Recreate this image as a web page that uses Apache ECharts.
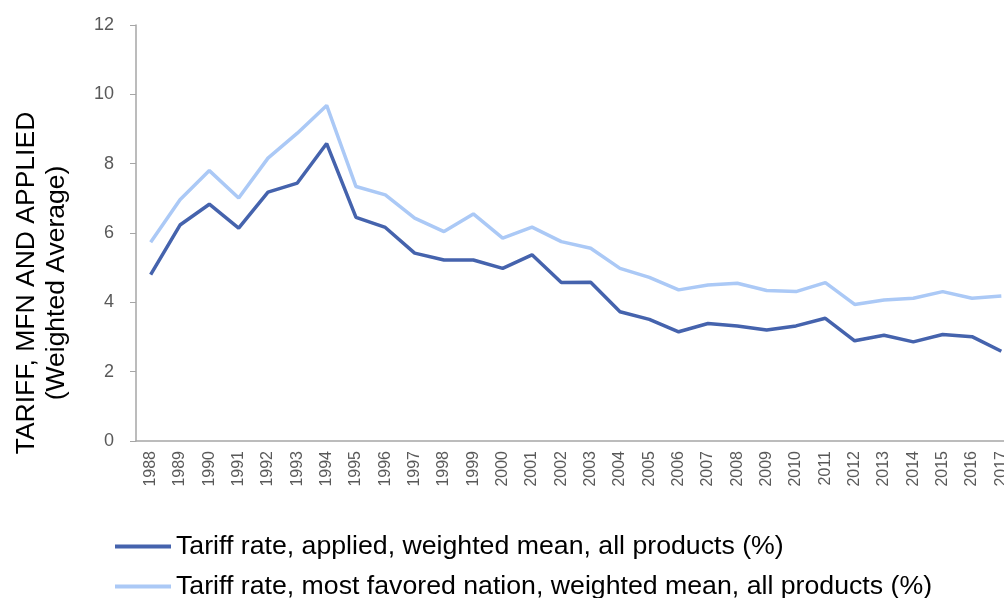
<!DOCTYPE html>
<html>
<head>
<meta charset="utf-8">
<script src="https://cdn.jsdelivr.net/npm/echarts@6/dist/echarts.min.js"></script>
<style>
  html, body { margin: 0; padding: 0; background: #fff; }
  #chart { width: 1004px; height: 598px; }
</style>
</head>
<body>
<div id="chart"></div>
<script>
// years on the x axis
const years = ["1988", "1989", "1990", "1991", "1992", "1993", "1994", "1995", "1996", "1997",
  "1998", "1999", "2000", "2001", "2002", "2003", "2004", "2005", "2006", "2007",
  "2008", "2009", "2010", "2011", "2012", "2013", "2014", "2015", "2016", "2017"];

// Tariff rate, applied, weighted mean
const appliedRate = [4.8, 6.23, 6.83, 6.14, 7.18, 7.44, 8.58, 6.45, 6.16, 5.42,
  5.22, 5.22, 4.98, 5.37, 4.57, 4.58, 3.73, 3.51, 3.15, 3.39,
  3.32, 3.2, 3.32, 3.54, 2.89, 3.05, 2.86, 3.07, 3.01, 2.59];

// Tariff rate, most favored nation, weighted mean
const mfnRate = [5.73, 6.96, 7.8, 7.01, 8.16, 8.88, 9.68, 7.34, 7.1, 6.43,
  6.04, 6.55, 5.85, 6.17, 5.75, 5.56, 4.98, 4.72, 4.36, 4.5,
  4.55, 4.34, 4.31, 4.57, 3.94, 4.07, 4.12, 4.31, 4.12, 4.18];

const seriesNames = [
  "Tariff rate, applied, weighted mean, all products (%)",
  "Tariff rate, most favored nation, weighted mean, all products (%)"
];
const titleLines = ["TARIFF, MFN AND APPLIED", "(Weighted Average)"];

const font = "Liberation Sans, Arial, sans-serif";
const chart = echarts.init(document.getElementById("chart"));

// one legend per row so they stack under the chart
function legendRow(name, top) {
  return {
    left: 110,
    top: top,
    itemWidth: 56,
    itemHeight: 4,
    itemGap: 0,
    icon: "rect",
    textStyle: { fontSize: 26.7, color: "#000", fontFamily: font },
    data: [name]
  };
}

function titleText(text, x) {
  return {
    type: "text",
    x: x,
    y: 283,
    rotation: Math.PI / 2,
    style: {
      text: text,
      font: "26.5px " + font,
      fill: "#000",
      textAlign: "center",
      textVerticalAlign: "middle"
    }
  };
}

chart.setOption({
  animation: false,
  textStyle: { fontFamily: font },
  grid: {
    left: 136,
    top: 25,
    width: 880,
    bottom: 157,
    outerBoundsMode: "none",
    containLabel: false
  },
  legend: [legendRow(seriesNames[0], 528), legendRow(seriesNames[1], 568)],
  // rotated y axis title
  graphic: [titleText(titleLines[0], 27), titleText(titleLines[1], 57)],
  xAxis: {
    type: "category",
    data: years,
    boundaryGap: true,
    axisLine: { lineStyle: { color: "#a6a6a6", width: 1.5 } },
    axisTick: { length: 6, lineStyle: { color: "#a6a6a6" } },
    axisLabel: {
      rotate: 90,
      interval: 0,
      margin: 10,
      fontSize: 16,
      color: "#595959"
    }
  },
  yAxis: {
    type: "value",
    min: 0,
    max: 12,
    interval: 2,
    splitLine: { show: false },
    axisLine: { show: true, lineStyle: { color: "#a6a6a6", width: 1.5 } },
    axisTick: { show: true, length: 6, lineStyle: { color: "#a6a6a6" } },
    axisLabel: { fontSize: 18, color: "#595959", margin: 22 }
  },
  series: [
    {
      name: seriesNames[0],
      type: "line",
      data: appliedRate,
      symbol: "none",
      itemStyle: { color: "#4563ad" },
      lineStyle: { width: 3.5, color: "#4563ad" }
    },
    {
      name: seriesNames[1],
      type: "line",
      data: mfnRate,
      symbol: "none",
      itemStyle: { color: "#abc9f6" },
      lineStyle: { width: 3.5, color: "#abc9f6" }
    }
  ]
});
</script>
</body>
</html>
